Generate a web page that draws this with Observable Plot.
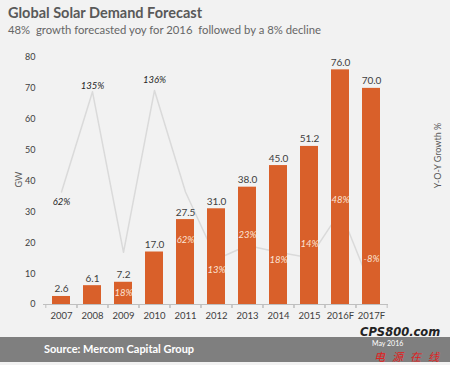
<!DOCTYPE html>
<html><head><meta charset="utf-8">
<script src="https://cdn.jsdelivr.net/npm/d3@7"></script>
<script src="https://cdn.jsdelivr.net/npm/@observablehq/plot@0.6"></script>
<style>
html,body{margin:0;padding:0;background:#F2F2F2;}
#wrap{position:relative;width:450px;height:365px;background:#F2F2F2;font-family:Lato,"Open Sans",sans-serif;overflow:hidden;}
#title{position:absolute;left:8px;top:4px;font-size:14.5px;font-weight:bold;color:#595959;white-space:nowrap;}
#sub{position:absolute;left:8px;top:23px;font-size:11.3px;color:#666;white-space:nowrap;}
#chart{position:absolute;left:0;top:40px;}
#gw{position:absolute;left:11px;top:174px;font-size:9px;color:#595959;transform:rotate(-90deg);transform-origin:center;}
#yoy{position:absolute;left:392px;top:150px;width:90px;text-align:center;font-size:9px;color:#595959;transform:rotate(-90deg);}
#foot{position:absolute;left:0;top:337px;width:450px;height:25px;background:#7F7F7F;}
#src{position:absolute;left:44px;top:342px;font-size:11px;font-weight:bold;color:#fff;white-space:nowrap;}
#date{position:absolute;left:372px;top:339px;font-size:7px;line-height:9px;color:#fff;white-space:nowrap;}
#wm1{position:absolute;left:360px;top:326px;font-size:11.5px;line-height:13px;font-weight:bold;font-style:italic;color:#222;font-family:"DejaVu Sans",sans-serif;white-space:nowrap;}
#wm2{position:absolute;left:374px;top:350px;font-size:11px;line-height:12px;color:#e02020;font-family:"Noto Sans CJK SC",sans-serif;letter-spacing:7px;font-style:italic;white-space:nowrap;}
</style></head>
<body><div id="wrap">
<div id="title">Global Solar Demand Forecast</div>
<div id="sub">48%&nbsp; growth forecasted yoy for 2016&nbsp; followed by a 8% decline</div>
<div id="chart"></div>
<div id="gw">GW</div>
<div id="yoy">Y-O-Y Growth %</div>
<div id="foot"></div>
<div id="src">Source: Mercom Capital Group</div>
<div id="date">May 2016</div>
<div id="wm1">CPS800.com</div>
<div id="wm2">电源在线</div>
</div>
<script>
const years = ["2007","2008","2009","2010","2011","2012","2013","2014","2015","2016F","2017F"];
const demand = [2.6, 6.1, 7.2, 17.0, 27.5, 31.0, 38.0, 45.0, 51.2, 76.0, 70.0];
const growth = [62, 135, 18, 136, 62, 13, 23, 18, 14, 48, -8];
const yTicks = [0, 10, 20, 30, 40, 50, 60, 70, 80];
const growthDomain = [-20, 160];

const H = 290, mTop = 17, mBottom = 26, mLeft = 43, mRight = 62;
const gw2px = (H - mTop - mBottom) / 80;
const g2gw = d3.scaleLinear().domain(growthDomain).range([0, 80]);
const step = (450 - mLeft - mRight) / years.length;

const data = years.map((y, i) => ({year: y, gw: demand[i], g: growth[i], gy: g2gw(growth[i])}));
// label offsets (pixels) relative to growth point, as placed in the original
const labelDy = [10, -6, 41, -10, 48, 11, -11, 8, -14, -11, -29];

const growthLabels = data.map((d, i) => {
  const labelGW = d.gy - labelDy[i] / gw2px;
  const inside = labelGW < d.gw;
  return Plot.text([d], {
    x: "year", y: "gy", text: d => `${d.g}%`, dy: labelDy[i],
    fill: inside ? "#FCE4D6" : "#262626", fontStyle: "italic", fontSize: 9.5
  });
});

const chart = Plot.plot({
  width: 450, height: H,
  marginTop: mTop, marginBottom: mBottom, marginLeft: mLeft, marginRight: mRight,
  style: {background: "transparent", fontFamily: "Lato, 'Open Sans', sans-serif"},
  x: {domain: years, paddingInner: 0.42, paddingOuter: 0.21, label: null},
  y: {domain: [0, 80], label: null},
  marks: [
    Plot.line(data, {x: "year", y: "gy", stroke: "#DADADA", strokeWidth: 1.5}),
    Plot.barY(data, {x: "year", y: "gw", fill: "#D9602A"}),
    Plot.ruleY([0], {stroke: "#BFBFBF", strokeWidth: 1}),
    Plot.axisY({ticks: yTicks, tickSize: 0, tickPadding: 8, label: null, fontSize: 9, color: "#404040"}),
    Plot.axisX({tickSize: 0, tickPadding: 8, label: null, fontSize: 9.5, color: "#404040"}),
    Plot.axisX({tickSize: 4, tickFormat: () => "", dx: -step / 2, label: null, stroke: "#BFBFBF"}),
    Plot.axisX({tickSize: 4, tickFormat: () => "", dx: step / 2, label: null, stroke: "#BFBFBF"}),
    Plot.text(data, {x: "year", y: "gw", text: d => d.gw.toFixed(1), lineAnchor: "bottom", dy: -4, fill: "#404040", fontSize: 10})
  ].concat(growthLabels)
});
document.getElementById("chart").appendChild(chart);
</script>
</body></html>
